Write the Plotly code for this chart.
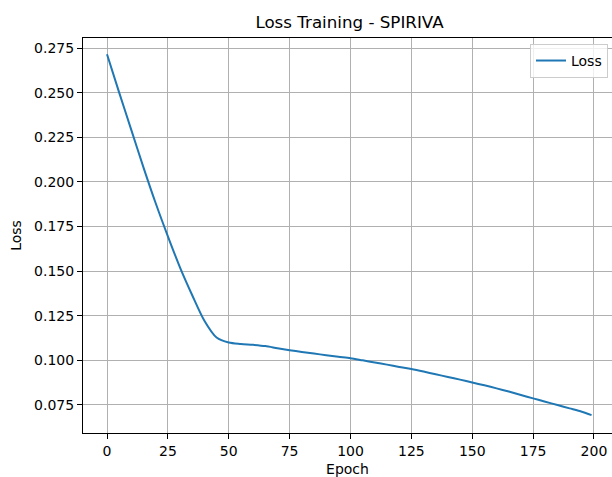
import plotly.graph_objects as go

epochs = [0, 5, 10, 15, 20, 25, 30, 35, 40, 45, 50, 55, 60, 65, 70, 75, 80, 85, 90, 95,
          100, 105, 110, 115, 120, 125, 130, 135, 140, 145, 150, 155, 160, 165, 170,
          175, 180, 185, 190, 195, 199]
loss = [0.2715, 0.2500, 0.2290, 0.2080, 0.1880, 0.1695, 0.1520, 0.1365, 0.1222, 0.1128,
        0.1100, 0.1092, 0.1087, 0.1080, 0.1068, 0.1057, 0.1047, 0.1038, 0.1029, 0.1020,
        0.1012, 0.1000, 0.0988, 0.0976, 0.0963, 0.0951, 0.0937, 0.0922, 0.0907, 0.0892,
        0.0876, 0.0860, 0.0843, 0.0825, 0.0806, 0.0787, 0.0768, 0.0750, 0.0731, 0.0712,
        0.0693]

x_ticks = [0, 25, 50, 75, 100, 125, 150, 175, 200]
y_ticks = [0.075, 0.100, 0.125, 0.150, 0.175, 0.200, 0.225, 0.250, 0.275]
y_tick_labels = ["0.075", "0.100", "0.125", "0.150", "0.175", "0.200", "0.225", "0.250", "0.275"]

FONT = "DejaVu Sans"

fig = go.Figure()
fig.add_trace(go.Scatter(
    x=epochs, y=loss, mode="lines", name="Loss",
    line=dict(color="#1f77b4", width=2, shape="spline", smoothing=0.8),
))

fig.update_layout(
    width=612, height=477,
    margin=dict(l=83, r=0, t=38, b=44, pad=0),
    paper_bgcolor="white", plot_bgcolor="white",
    font=dict(family=FONT, size=14, color="#000000"),
    title=dict(text="Loss Training - SPIRIVA", x=(83 + 616) / 2 / 612, xanchor="center",
               y=1 - 22 / 477, yanchor="middle", font=dict(size=16.7, family=FONT, color="#000000")),
    showlegend=True,
    legend=dict(x=0.9924, xanchor="right", y=0.985, yanchor="top",
                bgcolor="rgba(255,255,255,0.8)", bordercolor="#cccccc", borderwidth=1,
                font=dict(size=14, family=FONT, color="#000000"),
                itemwidth=30),
)

fig.update_xaxes(
    range=[-9.86, 207.4], tickvals=x_ticks, ticktext=[str(v) for v in x_ticks],
    showgrid=True, gridcolor="#b0b0b0", gridwidth=1.1,
    showline=True, linecolor="#000000", linewidth=1, mirror=True,
    ticks="outside", ticklen=5, tickcolor="#000000", tickwidth=1,
    zeroline=False,
    title=dict(text="Epoch", standoff=11, font=dict(size=14, family=FONT)),
    automargin=False,
)
fig.update_yaxes(
    range=[0.0593, 0.2806], tickvals=y_ticks, ticktext=y_tick_labels,
    showgrid=True, gridcolor="#b0b0b0", gridwidth=1.1,
    showline=True, linecolor="#000000", linewidth=1, mirror=False,
    ticks="outside", ticklen=5, tickcolor="#000000", tickwidth=1,
    zeroline=False,
    title=dict(text="Loss", standoff=9, font=dict(size=14, family=FONT)),
    automargin=False,
)

fig.write_html("out.html")
